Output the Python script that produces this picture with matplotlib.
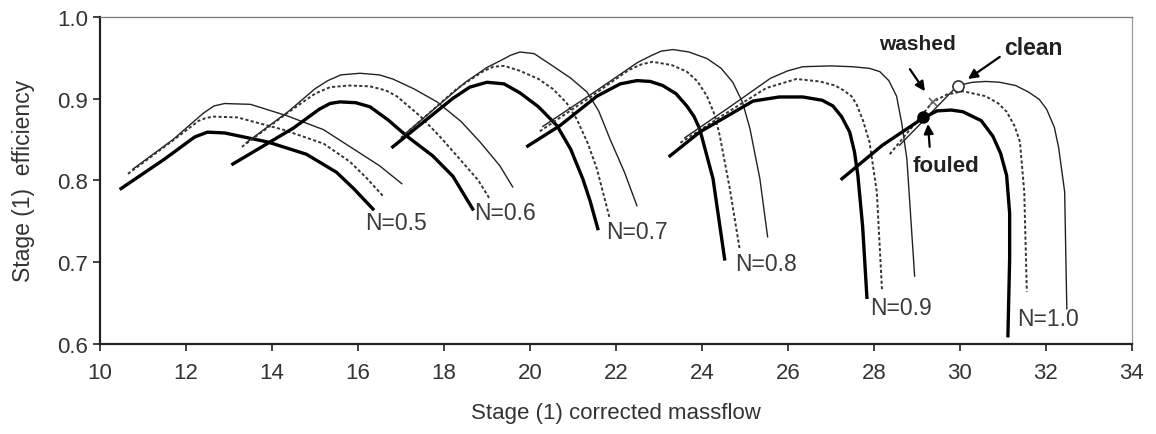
import matplotlib.pyplot as plt

plt.rcParams['font.family'] = ['Liberation Sans', 'DejaVu Sans']

# speed lines N = 0.5 ... 1.0, three states each (clean, washed, fouled)
speeds = ['0.5', '0.6', '0.7', '0.8', '0.9', '1.0']

clean_x = [
    [10.77, 11.7, 12.4, 12.65, 12.9, 13.5, 14.35, 15.2, 15.88, 16.5, 17.02],
    [13.4, 14.4, 15.0, 15.3, 15.6, 16.05, 16.5, 16.81, 17.3, 17.84, 18.4, 18.84, 19.3, 19.6],
    [17.1, 18.5, 19.0, 19.3, 19.55, 19.77, 20.1, 20.53, 20.95, 21.33, 21.6, 21.86, 22.2, 22.49],
    [20.3, 21.5, 22.5, 22.8, 23.05, 23.33, 23.7, 24.12, 24.45, 24.72, 24.95, 25.12, 25.35, 25.53],
    [23.6, 24.6, 25.6, 26.0, 26.35, 27.0, 27.5, 27.9, 28.14, 28.35, 28.53, 28.65, 28.77, 28.95],
    [28.6, 29.95, 30.3, 30.6, 30.93, 31.3, 31.6, 31.85, 32.02, 32.2, 32.3, 32.44, 32.49],
]
clean_y = [
    [0.814, 0.850, 0.882, 0.891, 0.894, 0.893, 0.879, 0.862, 0.839, 0.818, 0.796],
    [0.846, 0.885, 0.912, 0.922, 0.929, 0.931, 0.929, 0.924, 0.912, 0.896, 0.872, 0.847, 0.818, 0.792],
    [0.857, 0.920, 0.938, 0.946, 0.953, 0.957, 0.955, 0.940, 0.925, 0.908, 0.885, 0.851, 0.810, 0.769],
    [0.866, 0.908, 0.944, 0.952, 0.958, 0.960, 0.957, 0.949, 0.937, 0.920, 0.895, 0.863, 0.802, 0.731],
    [0.852, 0.888, 0.925, 0.934, 0.939, 0.940, 0.939, 0.937, 0.933, 0.922, 0.903, 0.870, 0.826, 0.683],
    [0.843, 0.916, 0.920, 0.921, 0.920, 0.916, 0.908, 0.899, 0.887, 0.865, 0.840, 0.786, 0.643],
]

washed_x = [
    [10.65, 11.6, 12.3, 12.45, 12.63, 13.2, 14.26, 15.2, 15.81, 16.2, 16.58],
    [13.3, 14.4, 15.0, 15.35, 15.8, 16.28, 16.65, 16.9, 17.44, 17.9, 18.37, 18.8, 19.07],
    [17.0, 18.3, 18.9, 19.15, 19.4, 19.77, 20.2, 20.53, 20.85, 21.09, 21.35, 21.56, 21.86],
    [20.23, 21.3, 22.3, 22.6, 22.86, 23.3, 23.65, 23.9, 24.12, 24.3, 24.42, 24.65, 24.88],
    [23.5, 24.5, 25.5, 26.2, 26.74, 27.1, 27.3, 27.48, 27.6, 27.75, 27.9, 28.07, 28.19],
    [28.37, 29.37, 29.7, 30.07, 30.6, 30.9, 31.09, 31.28, 31.4, 31.5, 31.56],
]
washed_y = [
    [0.808, 0.845, 0.873, 0.876, 0.878, 0.877, 0.862, 0.845, 0.823, 0.803, 0.781],
    [0.841, 0.884, 0.906, 0.914, 0.916, 0.915, 0.910, 0.903, 0.879, 0.854, 0.826, 0.800, 0.777],
    [0.852, 0.912, 0.933, 0.939, 0.940, 0.934, 0.924, 0.912, 0.895, 0.875, 0.845, 0.814, 0.753],
    [0.860, 0.898, 0.935, 0.942, 0.945, 0.941, 0.933, 0.921, 0.903, 0.880, 0.854, 0.790, 0.716],
    [0.846, 0.880, 0.913, 0.924, 0.921, 0.916, 0.910, 0.903, 0.893, 0.873, 0.847, 0.786, 0.667],
    [0.832, 0.896, 0.905, 0.909, 0.903, 0.894, 0.884, 0.866, 0.847, 0.786, 0.664],
]

fouled_x = [
    [10.49, 11.5, 12.2, 12.5, 12.9, 13.9, 14.8, 15.5, 15.9, 16.35],
    [13.09, 14.5, 15.1, 15.35, 15.58, 15.95, 16.28, 16.7, 17.14, 17.74, 18.21, 18.67],
    [16.81, 18.2, 18.6, 19.0, 19.4, 19.77, 20.2, 20.63, 20.95, 21.23, 21.4, 21.58],
    [19.95, 20.7, 21.56, 22.1, 22.49, 22.8, 23.09, 23.4, 23.65, 23.82, 23.95, 24.26, 24.53],
    [23.26, 23.95, 25.19, 25.8, 26.35, 26.8, 27.05, 27.25, 27.44, 27.55, 27.63, 27.74, 27.84],
    [27.26, 28.2, 29.14, 29.47, 29.8, 30.07, 30.5, 30.77, 30.95, 31.09, 31.16, 31.16, 31.12],
]
fouled_y = [
    [0.790, 0.826, 0.853, 0.859, 0.858, 0.847, 0.832, 0.810, 0.790, 0.765],
    [0.820, 0.864, 0.887, 0.894, 0.896, 0.895, 0.890, 0.874, 0.854, 0.830, 0.805, 0.765],
    [0.841, 0.900, 0.914, 0.920, 0.918, 0.907, 0.890, 0.867, 0.838, 0.802, 0.775, 0.741],
    [0.842, 0.867, 0.903, 0.918, 0.922, 0.921, 0.916, 0.906, 0.891, 0.878, 0.863, 0.802, 0.704],
    [0.830, 0.859, 0.897, 0.902, 0.902, 0.898, 0.891, 0.878, 0.859, 0.835, 0.806, 0.744, 0.657],
    [0.802, 0.843, 0.876, 0.885, 0.886, 0.884, 0.873, 0.854, 0.833, 0.806, 0.760, 0.704, 0.610],
]

label_x = [16.88, 19.42, 22.49, 25.49, 28.63, 32.05]
label_y = [0.749, 0.761, 0.738, 0.698, 0.645, 0.631]

# operating points at N=1.0
clean_pt = (29.95, 0.916)
washed_pt = (29.37, 0.896)
fouled_pt = (29.14, 0.877)

fig = plt.figure(figsize=(11.56, 4.35), dpi=100)
ax = fig.add_axes([0.0865, 0.207, 0.8925, 0.752])

for i in range(len(speeds)):
    ax.plot(clean_x[i], clean_y[i], color='#222222', lw=1.0)
    ax.plot(washed_x[i], washed_y[i], color='#333333', lw=1.4, ls=(0, (1.6, 1.2)))
    ax.plot(fouled_x[i], fouled_y[i], color='black', lw=2.4)
    ax.text(label_x[i], label_y[i], 'N=' + speeds[i], fontsize=16.5, color='#3a3a3a',
            ha='center', va='center')

ax.plot(*clean_pt, 'o', ms=8, mfc='white', mec='#333333', mew=1.2)
ax.plot(*washed_pt, 'x', ms=6, color='#666666', mew=1.2)
ax.plot(*fouled_pt, 'o', ms=8, color='black')

arrow = dict(arrowstyle='-|>', color='black', lw=1.6, mutation_scale=14, shrinkA=0, shrinkB=0)
ax.text(29.02, 0.967, 'washed', fontsize=15, fontweight='bold', ha='center', va='center', color='#222222')
ax.annotate('', xy=(29.19, 0.909), xytext=(28.84, 0.936), arrowprops=arrow)
ax.text(31.72, 0.963, 'clean', fontsize=16.5, fontweight='bold', ha='center', va='center', color='#222222')
ax.annotate('', xy=(30.19, 0.924), xytext=(30.93, 0.951), arrowprops=arrow)
ax.text(29.67, 0.818, 'fouled', fontsize=16, fontweight='bold', ha='center', va='center', color='#222222')
ax.annotate('', xy=(29.26, 0.869), xytext=(29.3, 0.841), arrowprops=arrow)

ax.set_xlim(10, 34)
ax.set_ylim(0.6, 1.0)
ax.set_xticks(range(10, 35, 2))
ax.set_yticks([0.6, 0.7, 0.8, 0.9, 1.0])
ax.set_yticklabels(['0.6', '0.7', '0.8', '0.9', '1.0'])
ax.tick_params(labelsize=16, direction='out', length=5, width=1.3, colors='#333333')
ax.tick_params(axis='x', pad=8)

ax.spines['left'].set_linewidth(1.6)
ax.spines['bottom'].set_linewidth(1.6)
ax.spines['left'].set_color('#222222')
ax.spines['bottom'].set_color('#222222')
ax.spines['top'].set_color('#777777')
ax.spines['right'].set_color('#999999')
ax.spines['top'].set_linewidth(0.9)
ax.spines['right'].set_linewidth(0.9)

ax.set_xlabel('Stage (1) corrected massflow', fontsize=16, color='#333333', labelpad=14)
ax.set_ylabel('Stage (1)  efficiency', fontsize=16.5, color='#333333', labelpad=16)

fig.savefig('out.png', dpi=100)
